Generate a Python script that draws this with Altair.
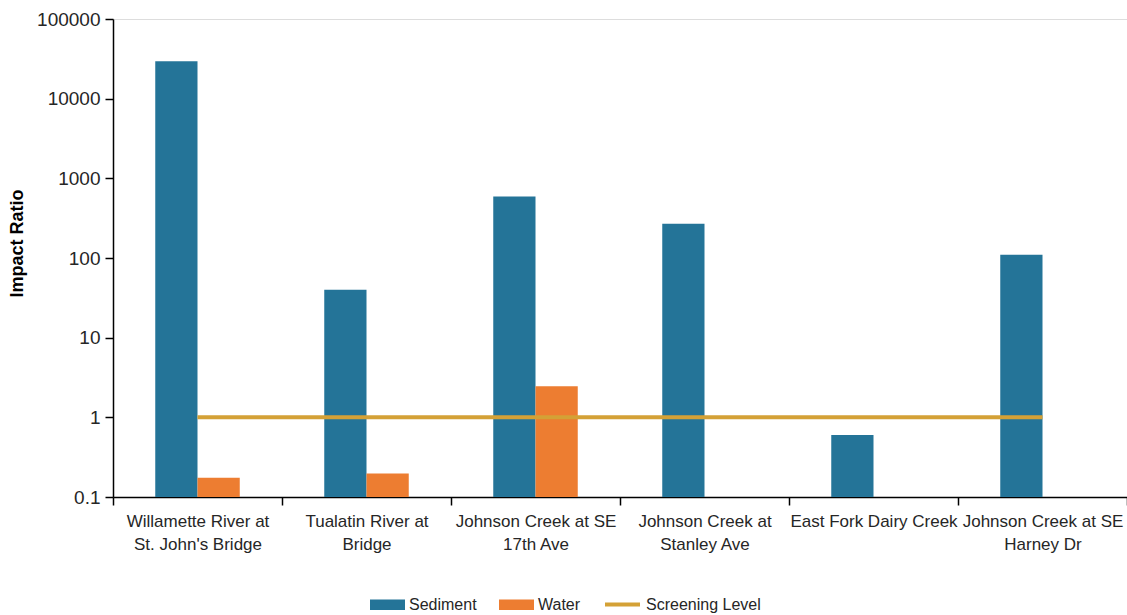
import altair as alt
import pandas as pd

categories = [
    "Willamette River at|St. John's Bridge",
    "Tualatin River at|Bridge",
    "Johnson Creek at SE|17th Ave",
    "Johnson Creek at|Stanley Ave",
    "East Fork Dairy Creek",
    "Johnson Creek at SE|Harney Dr",
]
sediment = [29500, 40, 590, 270, 0.6, 110]
water = [0.175, 0.197, 2.45, None, None, None]
screening = [1, 1, 1, 1, 1, 1]
y_ticks = [0.1, 1, 10, 100, 1000, 10000, 100000]

series_names = ["Sediment", "Water"]
bar_colors = ["#247498", "#ED7D31"]
line_color = "#D4A136"

rows = []
for c, s, w in zip(categories, sediment, water):
    rows.append({"site": c, "series": "Sediment", "value": s, "base": y_ticks[0]})
    if w is not None:
        rows.append({"site": c, "series": "Water", "value": w, "base": y_ticks[0]})
bars_df = pd.DataFrame(rows)
line_df = pd.DataFrame({"site": categories, "series": "Screening Level", "value": screening})

W, H = 1014, 478
font = "Liberation Sans"
txt = "#262626"

x = alt.X(
    "site:N",
    sort=categories,
    scale=alt.Scale(paddingInner=0, paddingOuter=0),
    axis=alt.Axis(
        title=None, labelAngle=0, labelExpr="split(datum.label, '|')",
        labelFontSize=17, labelLineHeight=23, labelPadding=8, labelLimit=0,
        labelOverlap=False, tickBand="extent", tickSize=8, tickWidth=1.5,
        domainWidth=1.5, domainColor="black", tickColor="black",
        labelColor=txt, labelFont=font, labelBaseline="top",
    ),
)
y_scale = alt.Scale(type="log", domain=[y_ticks[0], y_ticks[-1]], nice=False)
y_axis = alt.Axis(
    title="Impact Ratio", values=y_ticks,
    format="~g", grid=False, tickSize=8, tickWidth=1.5, domainWidth=1.5,
    domainColor="black", tickColor="black", labelFontSize=19, labelFont=font,
    labelColor=txt, labelPadding=5, titleFont=font, titleFontSize=18,
    titleFontWeight="bold", titleColor="black", titlePadding=10, titleY=224,
)

rect_path = "M-1,-0.3H1V0.3H-1Z"

bars = alt.Chart(bars_df).mark_bar().encode(
    x=x,
    xOffset=alt.XOffset("series:N", scale=alt.Scale(domain=series_names, paddingInner=0, paddingOuter=1)),
    y=alt.Y("value:Q", scale=y_scale, axis=y_axis),
    y2=alt.Y2("base:Q"),
    color=alt.Color(
        "series:N",
        scale=alt.Scale(domain=series_names, range=bar_colors),
        legend=alt.Legend(
            title=None, orient="none", legendX=257, legendY=568, direction="horizontal",
            symbolType=rect_path, symbolSize=1225, symbolStrokeWidth=0, symbolOpacity=1,
            labelFont=font, labelFontSize=16, labelColor=txt, columnPadding=22, labelOffset=4,
        ),
    ),
)

line = alt.Chart(line_df).mark_line(strokeWidth=4).encode(
    x=alt.X("site:N", sort=categories),
    y=alt.Y("value:Q", scale=y_scale),
    stroke=alt.Stroke(
        "series:N",
        scale=alt.Scale(domain=["Screening Level"], range=[line_color]),
        legend=alt.Legend(
            title=None, orient="none", legendX=490, legendY=566,
            symbolType="stroke", symbolSize=1225, symbolStrokeWidth=4,
            labelFont=font, labelFontSize=16, labelColor=txt, labelOffset=4,
        ),
    ),
)

chart = alt.layer(bars, line).properties(
    width=W, height=H,
    autosize=alt.AutoSizeParams(type="none"),
    padding={"left": 113, "top": 19, "right": 0, "bottom": 118},
).configure_view(stroke=None).configure(background="white")

chart.save("out.html", embed_options={"renderer": "svg", "actions": False})
